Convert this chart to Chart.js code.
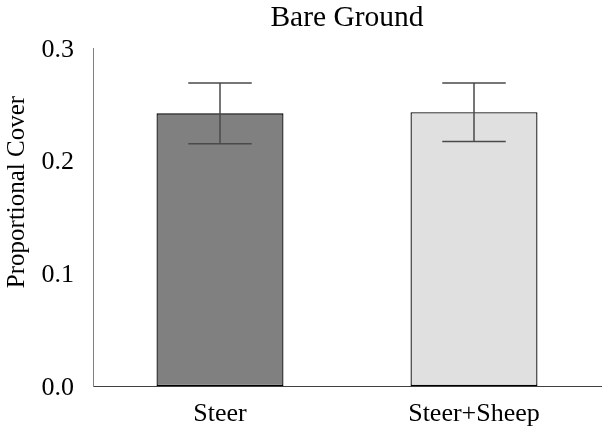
<!DOCTYPE html>
<html>
<head>
<meta charset="utf-8">
<script src="https://cdn.jsdelivr.net/npm/chart.js@4"></script>
<style>
  html, body { margin: 0; padding: 0; background: #ffffff; }
  #wrap { width: 602px; height: 430px; position: relative; }
</style>
</head>
<body>
<div id="wrap"><canvas id="c" width="602" height="430"></canvas></div>
<script>
// Mean proportional cover of bare ground per grazing treatment, with standard errors
const categories = ['Steer', 'Steer+Sheep'];
const meanCover = [0.242, 0.243];
const stdError = [0.027, 0.026];
const barColors = ['#808080', '#e0e0e0'];
const yTicks = [0.0, 0.1, 0.2, 0.3];
const chartTitle = 'Bare Ground';
const yAxisTitle = 'Proportional Cover';

const serif = "'Liberation Serif', 'Times New Roman', serif";

// Draws the error bars (vertical whisker plus caps) through the y scale
const errorBars = {
  id: 'errorBars',
  afterDatasetsDraw(chart) {
    const ctx = chart.ctx;
    const y = chart.scales.y;
    const meta = chart.getDatasetMeta(0);
    ctx.save();
    ctx.strokeStyle = '#4a4a4a';
    ctx.lineWidth = 1.5;
    meta.data.forEach((bar, i) => {
      const hi = y.getPixelForValue(meanCover[i] + stdError[i]);
      const lo = y.getPixelForValue(meanCover[i] - stdError[i]);
      const cx = bar.x;
      const half = bar.width / 4;
      ctx.beginPath();
      ctx.moveTo(cx, hi); ctx.lineTo(cx, lo);
      ctx.moveTo(cx - half, hi); ctx.lineTo(cx + half, hi);
      ctx.moveTo(cx - half, lo); ctx.lineTo(cx + half, lo);
      ctx.stroke();
    });
    ctx.restore();
  }
};

// Chart title centred over the plotting area, and the rotated y-axis title
const textLabels = {
  id: 'textLabels',
  afterDraw(chart) {
    const { ctx, chartArea } = chart;
    ctx.save();
    ctx.fillStyle = '#000000';
    ctx.font = "29.5px " + serif;
    ctx.textAlign = 'center';
    ctx.textBaseline = 'alphabetic';
    ctx.fillText(chartTitle, (chartArea.left + chartArea.right) / 2, 26);
    ctx.restore();

    ctx.save();
    ctx.fillStyle = '#000000';
    ctx.font = "25px " + serif;
    ctx.textAlign = 'center';
    ctx.textBaseline = 'middle';
    ctx.translate(17, 192);
    ctx.rotate(-Math.PI / 2);
    ctx.fillText(yAxisTitle, 0, 0);
    ctx.restore();
  }
};

new Chart(document.getElementById('c'), {
  type: 'bar',
  data: {
    labels: categories,
    datasets: [{
      data: meanCover,
      backgroundColor: barColors,
      borderColor: '#000000',
      borderWidth: 1.3,
      borderSkipped: false,
      barPercentage: 0.5,
      categoryPercentage: 1.0
    }]
  },
  options: {
    responsive: false,
    animation: false,
    devicePixelRatio: 1,
    layout: { padding: { left: 0, right: 1, top: 48, bottom: 0 } },
    plugins: {
      legend: { display: false },
      tooltip: { enabled: false },
      title: { display: false }
    },
    scales: {
      x: {
        grid: { display: false, drawTicks: false },
        border: { display: true, color: '#404040', width: 1 },
        ticks: {
          color: '#000000',
          font: { family: serif, size: 26 },
          padding: 13,
          maxRotation: 0
        },
        afterFit(scale) { scale.height = 44; }
      },
      y: {
        min: 0,
        max: 0.3,
        afterBuildTicks(scale) { scale.ticks = yTicks.map(v => ({ value: v })); },
        grid: { display: false, drawTicks: false },
        border: { display: true, color: '#808080', width: 1 },
        ticks: {
          color: '#000000',
          font: { family: serif, size: 26 },
          padding: 19,
          labelOffset: 2,
          callback: v => Number(v).toFixed(1)
        },
        title: { display: false },
        afterFit(scale) { scale.width = 93; }
      }
    }
  },
  plugins: [errorBars, textLabels]
});
</script>
</body>
</html>
